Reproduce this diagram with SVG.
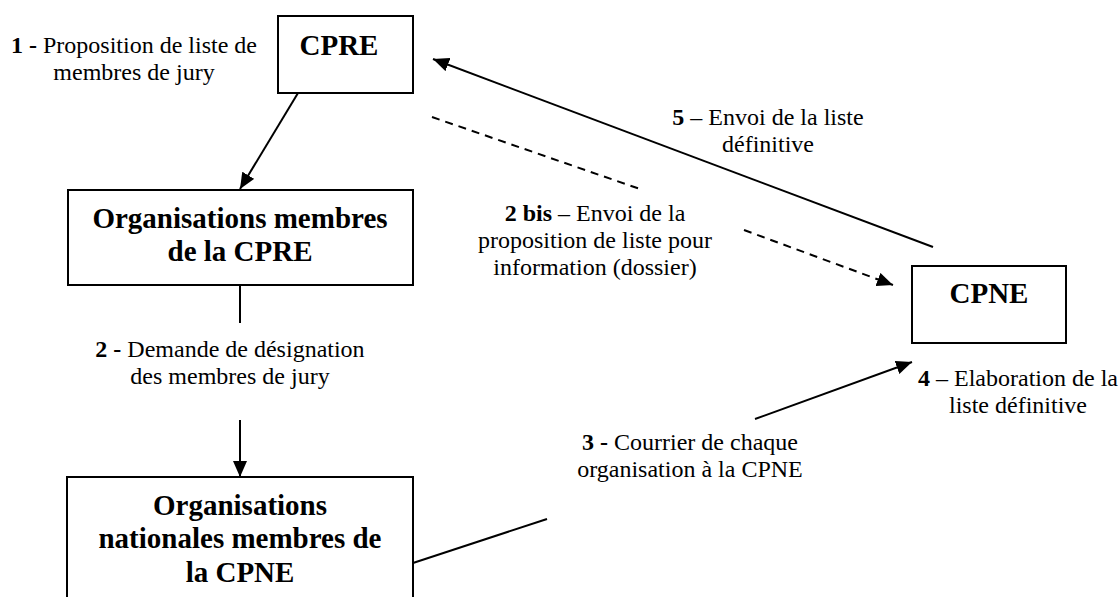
<svg xmlns="http://www.w3.org/2000/svg" width="1120" height="597" viewBox="0 0 1120 597">
<style>
.box{fill:#fff;stroke:#000;stroke-width:2}
.bt{font-family:"Liberation Serif","Times New Roman",serif;font-weight:bold;font-size:29px;text-anchor:middle;fill:#000}
.lt{font-family:"Liberation Serif","Times New Roman",serif;font-size:24px;text-anchor:middle;fill:#000}
.b{font-weight:bold}
.ln{stroke:#000;stroke-width:2;fill:none}
.dash{stroke-dasharray:8 6}
</style>
<defs>
<marker id="ah" markerUnits="userSpaceOnUse" markerWidth="16" markerHeight="14" refX="16" refY="7" orient="auto">
<path d="M0,0 L16,7 L0,14 z" fill="#000"/>
</marker>
</defs>
<g id="connectors">
<line class="ln" x1="298" y1="93" x2="240" y2="189" marker-end="url(#ah)"/>
<line class="ln" x1="240" y1="285" x2="240" y2="323"/>
<line class="ln" x1="240" y1="420" x2="240" y2="477" marker-end="url(#ah)"/>
<line class="ln dash" x1="432" y1="117" x2="640" y2="189"/>
<line class="ln dash" x1="744" y1="230" x2="893" y2="285" marker-end="url(#ah)"/>
<line class="ln" x1="413" y1="563" x2="547" y2="519"/>
<line class="ln" x1="755" y1="419" x2="912" y2="362" marker-end="url(#ah)"/>
<line class="ln" x1="933" y1="247" x2="433" y2="59" marker-end="url(#ah)"/>
</g>
<g id="node-cpre">
<rect class="box" x="278" y="16" width="135" height="77"/>
<text class="bt" x="339" y="55">CPRE</text>
</g>
<g id="node-org-cpre">
<rect class="box" x="68" y="190" width="345" height="95"/>
<text class="bt" x="240" y="228">Organisations membres</text>
<text class="bt" x="240" y="261">de la CPRE</text>
</g>
<g id="node-org-nat">
<rect class="box" x="67" y="477" width="346" height="140"/>
<text class="bt" x="240" y="515">Organisations</text>
<text class="bt" x="240" y="548">nationales membres de</text>
<text class="bt" x="240" y="582">la CPNE</text>
</g>
<g id="node-cpne">
<rect class="box" x="912" y="266" width="154" height="77"/>
<text class="bt" x="989" y="303">CPNE</text>
</g>
<g id="labels">
<text class="lt" x="134" y="53"><tspan class="b">1 -</tspan> Proposition de liste de</text>
<text class="lt" x="134" y="80">membres de jury</text>
<text class="lt" x="230" y="357"><tspan class="b">2 -</tspan> Demande de désignation</text>
<text class="lt" x="230" y="384">des membres de jury</text>
<text class="lt" x="595" y="221"><tspan class="b">2 bis</tspan> – Envoi de la</text>
<text class="lt" x="595" y="248">proposition de liste pour</text>
<text class="lt" x="595" y="275">information (dossier)</text>
<text class="lt" x="690" y="450"><tspan class="b">3 -</tspan> Courrier de chaque</text>
<text class="lt" x="690" y="477">organisation à la CPNE</text>
<text class="lt" x="1018" y="386"><tspan class="b">4</tspan> – Elaboration de la</text>
<text class="lt" x="1018" y="413">liste définitive</text>
<text class="lt" x="768" y="125"><tspan class="b">5</tspan> – Envoi de la liste</text>
<text class="lt" x="768" y="152">définitive</text>
</g>
</svg>
